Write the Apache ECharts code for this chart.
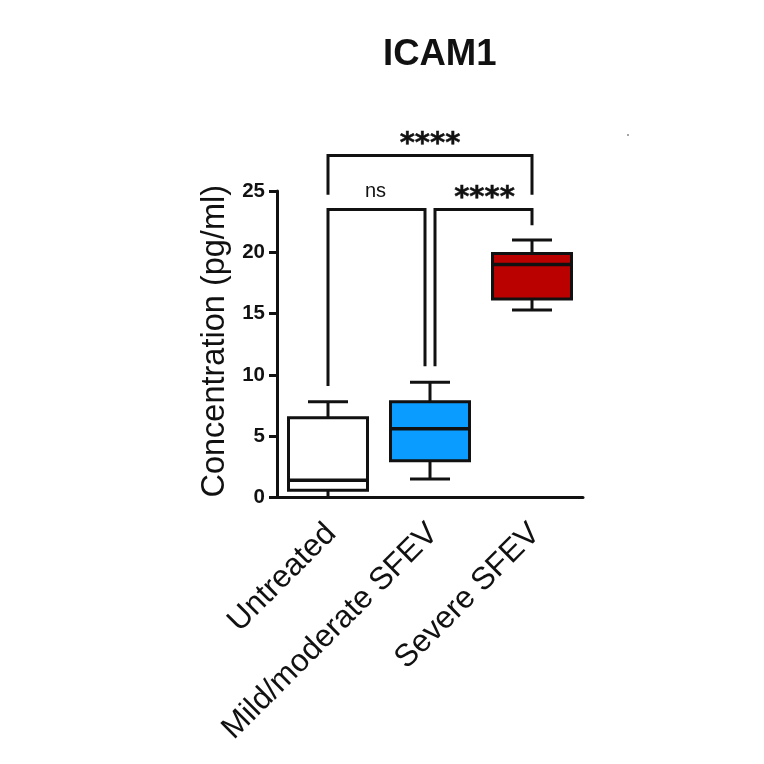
<!DOCTYPE html>
<html>
<head>
<meta charset="utf-8">
<title>ICAM1</title>
<script src="https://cdn.jsdelivr.net/npm/echarts@6/dist/echarts.min.js"></script>
<style>
  html, body { margin: 0; padding: 0; background: #fff; }
  #chart { width: 764px; height: 764px; }
</style>
</head>
<body>
<div id="chart"></div>
<script>
const categories = ["Untreated", "Mild/moderate SFEV", "Severe SFEV"];
const whiskerLow = [0, 1.5, 15.3];
const quartile1 = [0.6, 3.0, 16.2];
const medians = [1.4, 5.6, 19.0];
const quartile3 = [6.5, 7.8, 19.9];
const whiskerHigh = [7.8, 9.4, 21.0];
const boxColors = ["#ffffff", "#0a9dff", "#bb0000"];

// significance brackets: from, to, top value, bottom of left leg, bottom of right leg
const bracketFrom = [0, 0, 1];
const bracketTo = [2, 1, 2];
const bracketTop = [27.9, 23.5, 23.5];
const bracketLeftEnd = [24.7, 9.1, 10.7];
const bracketRightEnd = [24.7, 10.7, 22.2];
const bracketLabels = ["****", "ns", "****"];

const FONT = "'Liberation Sans', Arial, sans-serif";
const INK = "#111";
const LINE = 3;

const chart = echarts.init(document.getElementById("chart"));

function renderBox(params, api) {
  const i = params.dataIndex;
  const x = api.coord([i, 0])[0];
  const halfBox = 39.5;
  const halfCap = 20;
  const y = v => api.coord([i, v])[1];
  const line = (x1, y1, x2, y2, width) => ({
    type: "line",
    shape: { x1, y1, x2, y2 },
    style: { stroke: INK, lineWidth: width || LINE }
  });
  return {
    type: "group",
    children: [
      line(x, y(whiskerLow[i]), x, y(whiskerHigh[i])),
      line(x - halfCap, y(whiskerLow[i]), x + halfCap, y(whiskerLow[i])),
      line(x - halfCap, y(whiskerHigh[i]), x + halfCap, y(whiskerHigh[i])),
      {
        type: "rect",
        shape: { x: x - halfBox, y: y(quartile3[i]), width: halfBox * 2, height: y(quartile1[i]) - y(quartile3[i]) },
        style: { fill: boxColors[i], stroke: INK, lineWidth: LINE }
      },
      line(x - halfBox, y(medians[i]), x + halfBox, y(medians[i]), 3.5)
    ]
  };
}

function renderBracket(params, api) {
  const i = params.dataIndex;
  // the two inner brackets stop short of each other above the middle box
  const x1 = api.coord([bracketFrom[i], 0])[0] + (i === 2 ? 5 : 0);
  const x2 = api.coord([bracketTo[i], 0])[0] - (i === 1 ? 5 : 0);
  const top = api.coord([0, bracketTop[i]])[1];
  const left = api.coord([0, bracketLeftEnd[i]])[1];
  const right = api.coord([0, bracketRightEnd[i]])[1];
  const isNs = bracketLabels[i] === "ns";
  return {
    type: "group",
    children: [
      {
        type: "polyline",
        shape: { points: [[x1, left], [x1, top], [x2, top], [x2, right]] },
        style: { stroke: INK, lineWidth: LINE, fill: "none" }
      },
      {
        type: "text",
        style: {
          x: i === 1 ? (x1 + x2) / 2 - 1 : (x1 + x2) / 2 + (i === 2 ? 1 : 0),
          y: isNs ? top - 18 : top - 11,
          text: bracketLabels[i],
          fill: INK,
          stroke: isNs ? null : INK,
          lineWidth: isNs ? 0 : 0.5,
          align: "center",
          verticalAlign: "middle",
          font: isNs ? `20px ${FONT}` : `bold 29px 'DejaVu Sans', sans-serif`
        }
      }
    ]
  };
}

chart.setOption({
  animation: false,
  backgroundColor: "#fff",
  title: {
    text: "ICAM1",
    left: 378,
    top: 31,
    textStyle: { fontFamily: FONT, fontWeight: "bold", fontSize: 36.5, color: "#111" }
  },
  grid: { left: 277, right: 181, top: 191, bottom: 266.5, containLabel: false },
  xAxis: {
    type: "category",
    data: categories,
    axisLine: { lineStyle: { color: INK, width: LINE } },
    axisTick: { alignWithLabel: true, length: 8, lineStyle: { color: INK, width: LINE } },
    axisLabel: {
      rotate: 45,
      margin: 28,
      verticalAlign: "top",
      lineHeight: 9,
      interval: 0,
      fontFamily: FONT,
      fontSize: 31.5,
      color: INK
    }
  },
  yAxis: {
    type: "value",
    min: 0,
    max: 25,
    interval: 5,
    name: "Concentration (pg/ml)",
    nameLocation: "middle",
    nameGap: 45,
    nameTextStyle: { fontFamily: FONT, fontSize: 32.5, color: INK, padding: [0, 0, 0, 6] },
    splitLine: { show: false },
    axisLine: { show: true, lineStyle: { color: INK, width: LINE } },
    axisTick: { show: true, length: 8, lineStyle: { color: INK, width: LINE } },
    axisLabel: { margin: 12, fontFamily: FONT, fontSize: 20.5, fontWeight: "bold", color: INK }
  },
  series: [
    {
      type: "custom",
      name: "Concentration",
      data: categories.map((c, i) => [i, whiskerLow[i], quartile1[i], medians[i], quartile3[i], whiskerHigh[i]]),
      encode: { x: 0, y: [1, 2, 3, 4, 5] },
      renderItem: renderBox
    },
    {
      type: "custom",
      name: "Significance",
      data: bracketLabels.map((l, i) => [bracketFrom[i], bracketTop[i]]),
      encode: { x: 0, y: 1 },
      renderItem: renderBracket,
      silent: true
    }
  ],
  graphic: [
    { type: "circle", shape: { cx: 628, cy: 135, r: 0.8 }, style: { fill: "#333" } }
  ]
});
</script>
</body>
</html>
